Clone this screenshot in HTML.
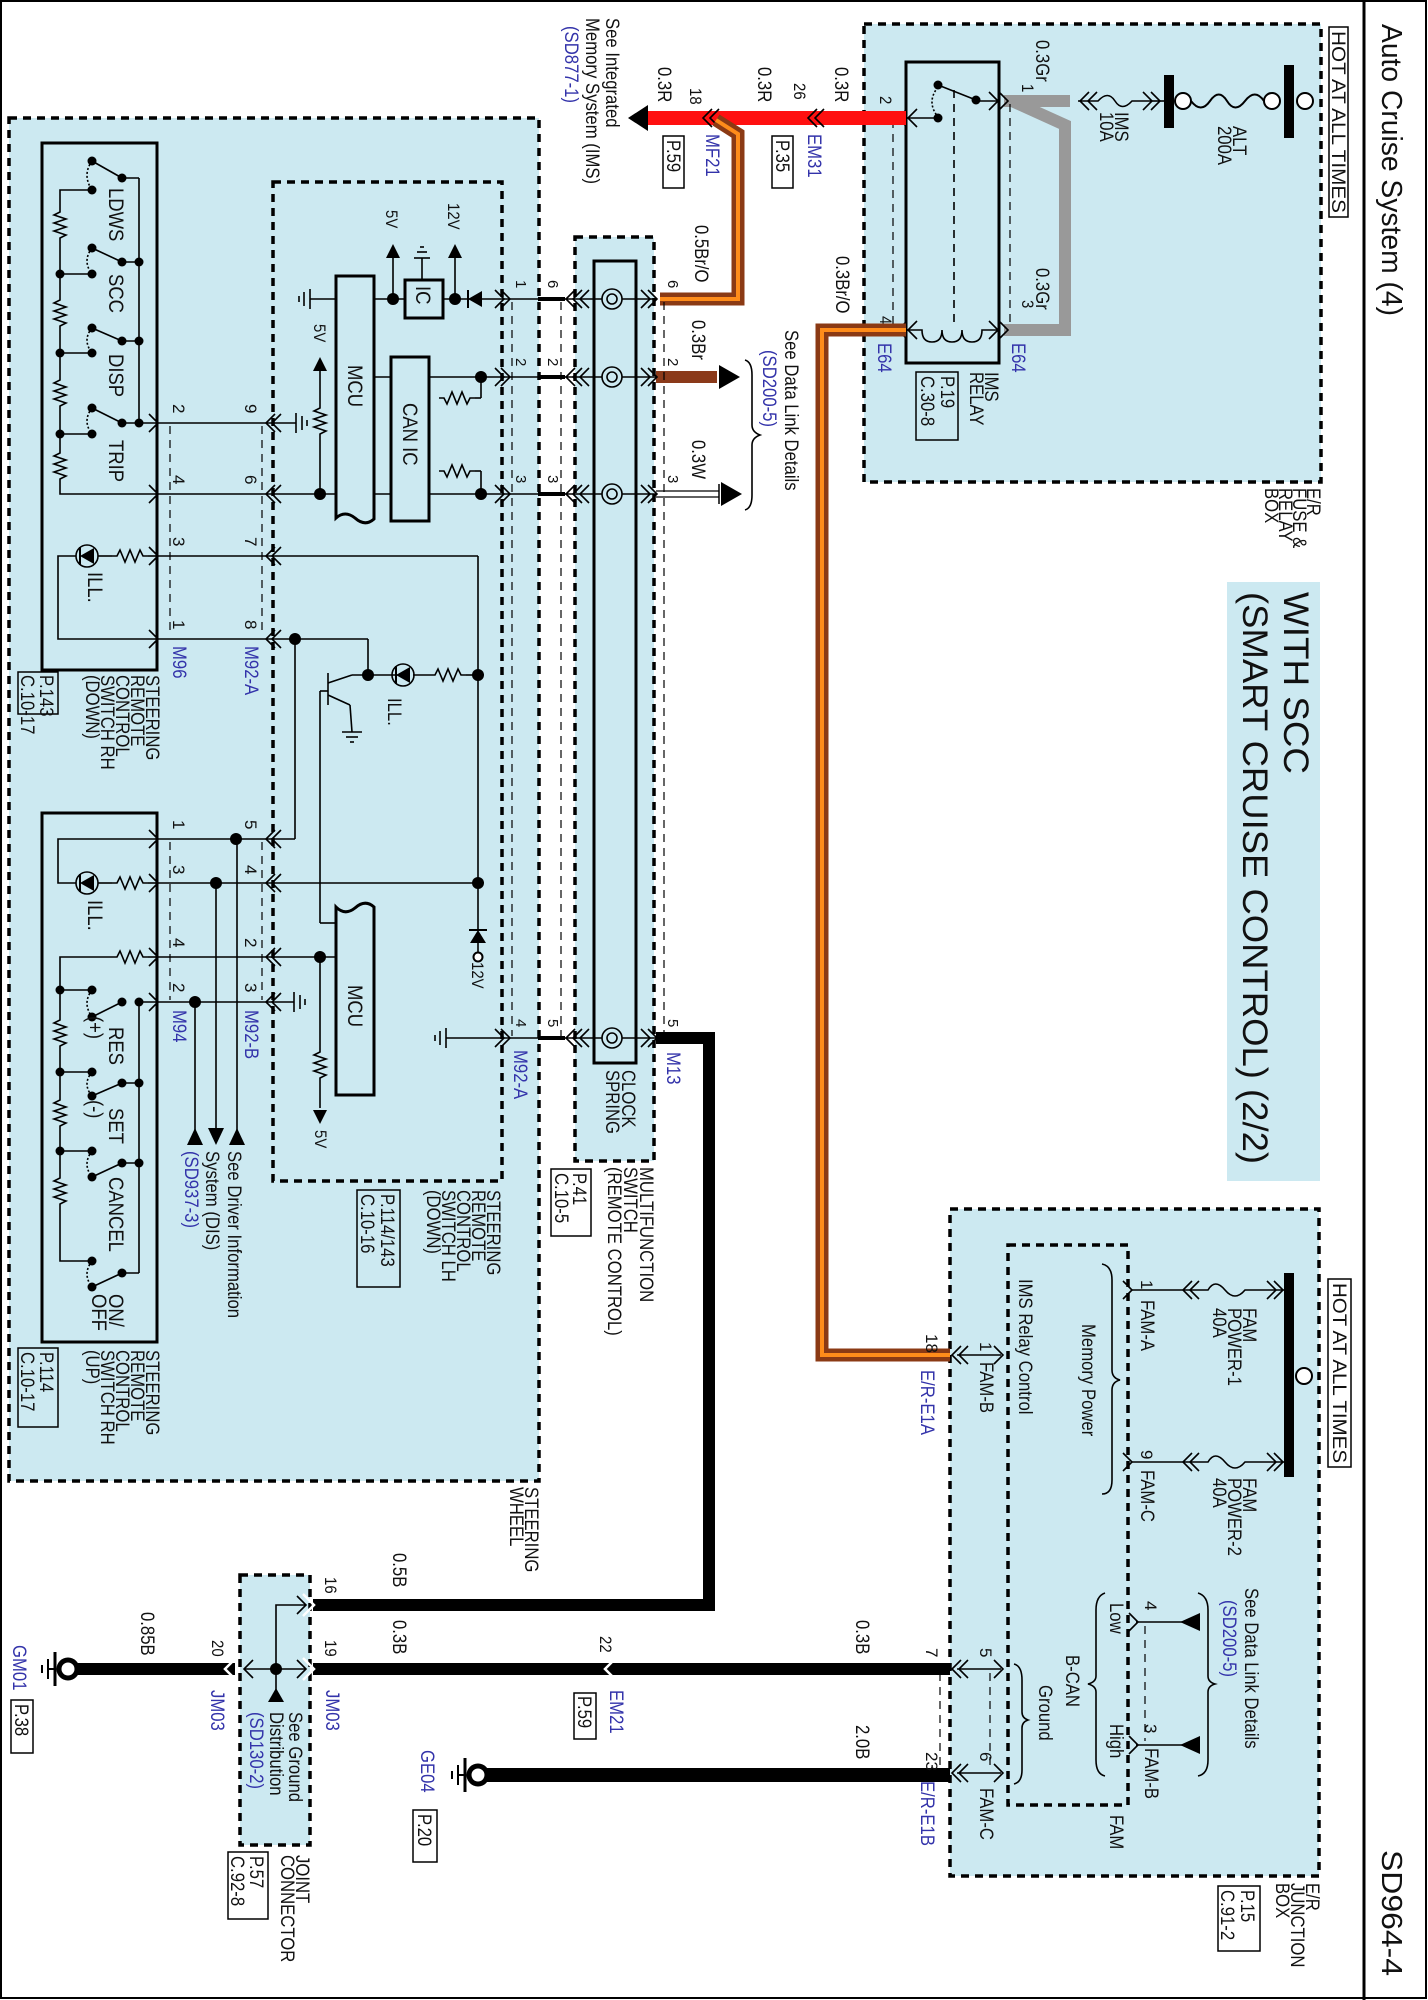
<!DOCTYPE html>
<html><head><meta charset="utf-8">
<style>
html,body{margin:0;padding:0;background:#fff;}
svg{display:block;}
text{font-family:"Liberation Sans",sans-serif;font-size:21px;fill:#111;}
.s{font-size:19px;}
.b{fill:#3333aa;}
.n{font-size:17px;}
.q{font-size:15px;}
</style></head><body>
<svg width="1428" height="2000" viewBox="0 0 1428 2000" xmlns="http://www.w3.org/2000/svg">
<defs>
<g id="cl"><polyline points="9,-9 0,0 9,9" fill="none" stroke="#000" stroke-width="1.6"/></g>
<g id="cr"><polyline points="-9,-9 0,0 -9,9" fill="none" stroke="#000" stroke-width="1.6"/></g>
<g id="dd"><circle r="6" fill="#000"/></g>
<g id="ds"><circle r="4.5" fill="#000"/></g>
<g id="resH"><polyline points="0,0 5,0 8,-6 13,6 18,-6 23,6 28,-6 31,0 36,0" fill="none" stroke="#000" stroke-width="1.6"/></g>
<g id="resV"><polyline points="0,0 0,4 -6,7 6,11 -6,15 6,19 -6,23 6,27 0,30 0,34" fill="none" stroke="#000" stroke-width="1.6"/></g>
</defs>
<rect x="1" y="1" width="1425" height="1997" fill="none" stroke="#000" stroke-width="2"/>
<line x1="1364" y1="0" x2="1364" y2="2000" stroke="#000" stroke-width="3"/>
<text transform="translate(1382,24) rotate(90)" style="font-size:29px" textLength="292" lengthAdjust="spacingAndGlyphs">Auto Cruise System (4)</text>
<text transform="translate(1382,1850) rotate(90)" style="font-size:29px" textLength="126" lengthAdjust="spacingAndGlyphs">SD964-4</text>

<g fill="#cce9f1" stroke="#000" stroke-width="3.5" stroke-dasharray="8,6">
<rect x="9" y="118" width="530" height="1363"/>
<rect x="273" y="182" width="229" height="999"/>
<rect x="575" y="237" width="79" height="924"/>
<rect x="864" y="24" width="457" height="458"/>
<rect x="950" y="1209" width="369" height="667"/>
<rect x="1008" y="1245" width="120" height="560"/>
<rect x="240" y="1575" width="70" height="270"/>
</g>
<rect x="1227" y="582" width="93" height="599" fill="#cce9f1"/>
<text transform="translate(1284,592) rotate(90)" style="font-size:35px" textLength="182" lengthAdjust="spacingAndGlyphs">WITH SCC</text>
<text transform="translate(1243,592) rotate(90)" style="font-size:35px" textLength="572" lengthAdjust="spacingAndGlyphs">(SMART CRUISE CONTROL) (2/2)</text>

<g fill="none" stroke="#000" stroke-width="3">
<rect x="42" y="143" width="115" height="527"/>
<rect x="42" y="813" width="115" height="529"/>
<rect x="594" y="261" width="42" height="802"/>
<rect x="906" y="62" width="93" height="301"/>
<rect x="391" y="357" width="38" height="164"/>
<rect x="405" y="280" width="38" height="38"/>
</g>
<path d="M336,276 L374,276 L374,519 Q365,527 355,518 Q345,510 336,518 Z" fill="none" stroke="#000" stroke-width="3"/>
<path d="M336,1095 L374,1095 L374,907 Q365,899 355,908 Q345,916 336,907 Z" fill="none" stroke="#000" stroke-width="3"/>
<text transform="translate(348,365) rotate(90) scale(0.88,1)">MCU</text>
<text transform="translate(348,985) rotate(90) scale(0.88,1)">MCU</text>
<text transform="translate(403,403) rotate(90) scale(0.88,1)">CAN IC</text>
<text transform="translate(416,286) rotate(90) scale(0.88,1)">IC</text>

<!-- Fuse & relay box -->
<rect x="1329" y="27" width="19" height="190" fill="#fff" stroke="#000" stroke-width="1.5"/>
<text transform="translate(1332,31) rotate(90)" class="s" textLength="182" lengthAdjust="spacingAndGlyphs">HOT AT ALL TIMES</text>
<rect x="1284" y="65" width="10" height="73" fill="#000"/>
<rect x="1164" y="75" width="10" height="53" fill="#000"/>
<g fill="#fff" stroke="#000" stroke-width="2">
<circle cx="1305" cy="101" r="8"/><circle cx="1272" cy="101" r="8"/><circle cx="1183" cy="101" r="8"/>
</g>
<path d="M1264,101 Q1255,88 1245,101 T1227,101 T1210,101 T1191,101" fill="none" stroke="#000" stroke-width="2"/>
<path d="M1078,101 L1098,101 Q1108,90 1115,101 T1132,101 L1152,101" fill="none" stroke="#000" stroke-width="1.6"/>
<line x1="1152" y1="101" x2="1164" y2="101" stroke="#000" stroke-width="1.6"/>
<use href="#cl" x="1080" y="101"/><use href="#cl" x="1088" y="101"/><use href="#cr" x="1152" y="101"/><use href="#cr" x="1160" y="101"/>
<text transform="translate(1115,112) rotate(90) scale(0.88,1)" class="s">IMS</text>
<text transform="translate(1100,112) rotate(90) scale(0.88,1)" class="s">10A</text>
<text transform="translate(1233,126) rotate(90) scale(0.88,1)" class="s">ALT</text>
<text transform="translate(1218,126) rotate(90) scale(0.88,1)" class="s">200A</text>
<path d="M1012,101 L1065,125 L1065,330 L1004,330" fill="none" stroke="#999" stroke-width="12"/>
<line x1="1004" y1="101" x2="1070" y2="101" stroke="#999" stroke-width="12"/>
<text transform="translate(1036,40) rotate(90) scale(0.88,1)" class="s">0.3Gr</text>
<text transform="translate(1022,84) rotate(90) scale(0.88,1)" class="n">1</text>
<text transform="translate(1036,268) rotate(90) scale(0.88,1)" class="s">0.3Gr</text>
<text transform="translate(1022,300) rotate(90) scale(0.88,1)" class="n">3</text>
<g stroke="#000" stroke-width="1.6" fill="none">
<line x1="906" y1="118" x2="938" y2="118"/>
<line x1="938" y1="85" x2="976" y2="100"/>
<line x1="976" y1="101" x2="999" y2="101"/>
<path d="M938,87 Q926,102 938,117" stroke-dasharray="2,2"/>
<line x1="954" y1="90" x2="954" y2="322" stroke-dasharray="8,6"/>
<line x1="893" y1="120" x2="893" y2="328" stroke-dasharray="8,6" stroke-width="1.2"/>
<line x1="1010" y1="104" x2="1010" y2="328" stroke-dasharray="8,6" stroke-width="1.2"/>
<path d="M906,330 L922,330 Q922,342 932,342 Q942,342 942,330 Q942,342 952,342 Q962,342 962,330 Q962,342 972,342 Q982,342 982,330 L999,330"/>
</g>
<use href="#ds" x="938" y="85"/><use href="#ds" x="976" y="100"/><use href="#ds" x="938" y="118"/>
<use href="#cl" x="908" y="118"/><use href="#cr" x="998" y="101"/><use href="#cl" x="908" y="330"/><use href="#cr" x="998" y="330"/>
<use href="#cl" x="898" y="118"/><use href="#cr" x="1008" y="101"/><use href="#cl" x="898" y="330"/><use href="#cr" x="1008" y="330"/>
<text transform="translate(985,372) rotate(90) scale(0.88,1)" class="s">IMS</text>
<text transform="translate(970,372) rotate(90) scale(0.88,1)" class="s">RELAY</text>
<rect x="916" y="372" width="42" height="68" fill="none" stroke="#000" stroke-width="1.5"/>
<text transform="translate(941,376) rotate(90) scale(0.88,1)" class="s">P.19</text>
<text transform="translate(921,376) rotate(90) scale(0.88,1)" class="s">C.30-8</text>
<text transform="translate(878,343) rotate(90) scale(0.88,1)" class="s b">E64</text>
<text transform="translate(1012,343) rotate(90) scale(0.88,1)" class="s b">E64</text>
<text transform="translate(880,96) rotate(90) scale(0.88,1)" class="n">2</text>
<text transform="translate(880,316) rotate(90) scale(0.88,1)" class="n">4</text>
<text transform="translate(1307,488) rotate(90) scale(0.88,1)" class="s">E/R</text>
<text transform="translate(1293,488) rotate(90) scale(0.88,1)" class="s">FUSE &amp;</text>
<text transform="translate(1279,488) rotate(90) scale(0.88,1)" class="s">RELAY</text>
<text transform="translate(1265,488) rotate(90) scale(0.88,1)" class="s">BOX</text>

<line x1="646" y1="118" x2="906" y2="118" stroke="#ff1010" stroke-width="14"/>
<polygon points="628,118 648,105 648,131" fill="#000"/>
<use href="#cl" x="703" y="118"/><use href="#cl" x="710" y="118"/>
<use href="#cl" x="808" y="118"/><use href="#cl" x="815" y="118"/>
<path d="M716,120 L738,134 L738,299 L660,299" fill="none" stroke="#8b3a14" stroke-width="13"/>
<path d="M716,120 L738,134 L738,299 L660,299" fill="none" stroke="#ff8c1a" stroke-width="4"/>
<path d="M906,330 L822,330 L822,1355 L950,1355" fill="none" stroke="#8b3a14" stroke-width="13"/>
<path d="M906,330 L822,330 L822,1355 L950,1355" fill="none" stroke="#ff8c1a" stroke-width="4"/>
<text transform="translate(836,256) rotate(90) scale(0.88,1)" class="s">0.3Br/O</text>
<text transform="translate(658,67) rotate(90) scale(0.88,1)" class="s">0.3R</text>
<text transform="translate(690,88) rotate(90) scale(0.88,1)" class="n">18</text>
<text transform="translate(706,134) rotate(90) scale(0.88,1)" class="s b">MF21</text>
<rect x="663" y="136" width="21" height="52" fill="none" stroke="#000" stroke-width="1.5"/>
<text transform="translate(667,140) rotate(90) scale(0.88,1)" class="s">P.59</text>
<text transform="translate(758,67) rotate(90) scale(0.88,1)" class="s">0.3R</text>
<text transform="translate(794,83) rotate(90) scale(0.88,1)" class="n">26</text>
<text transform="translate(808,134) rotate(90) scale(0.88,1)" class="s b">EM31</text>
<rect x="772" y="136" width="21" height="52" fill="none" stroke="#000" stroke-width="1.5"/>
<text transform="translate(776,140) rotate(90) scale(0.88,1)" class="s">P.35</text>
<text transform="translate(835,67) rotate(90) scale(0.88,1)" class="s">0.3R</text>
<text transform="translate(606,18) rotate(90) scale(0.88,1)" class="s">See Integrated</text>
<text transform="translate(586,18) rotate(90) scale(0.88,1)" class="s">Memory System (IMS)</text>
<text transform="translate(565,26) rotate(90) scale(0.88,1)" class="s b">(SD877-1)</text>
<text transform="translate(695,225) rotate(90) scale(0.88,1)" class="s">0.5Br/O</text>
<text transform="translate(692,320) rotate(90) scale(0.88,1)" class="s">0.3Br</text>
<text transform="translate(692,440) rotate(90) scale(0.88,1)" class="s">0.3W</text>
<line x1="656" y1="377" x2="717" y2="377" stroke="#8b3a1a" stroke-width="12"/>
<polygon points="740,377 719,365 719,389" fill="#000"/>
<line x1="656" y1="491" x2="719" y2="491" stroke="#000" stroke-width="1.2"/>
<line x1="656" y1="497" x2="719" y2="497" stroke="#000" stroke-width="1.2"/>
<line x1="719" y1="484" x2="719" y2="504" stroke="#000" stroke-width="1.5"/>
<polygon points="742,494 721,482 721,506" fill="#000"/>
<path d="M745,360 Q752,362 752,375 L752,425 Q752,432 760,435 Q752,438 752,445 L752,495 Q752,508 745,510" fill="none" stroke="#000" stroke-width="1.6"/>
<text transform="translate(785,330) rotate(90) scale(0.88,1)" class="s">See Data Link Details</text>
<text transform="translate(763,350) rotate(90) scale(0.88,1)" class="s b">(SD200-5)</text>

<g stroke="#000" stroke-width="1.6" fill="none">
<line x1="504" y1="299" x2="656" y2="299"/>
<line x1="504" y1="377" x2="656" y2="377"/>
<line x1="504" y1="494" x2="656" y2="494"/>
<line x1="504" y1="1038" x2="709" y2="1038"/>
<line x1="512" y1="302" x2="512" y2="1036" stroke-dasharray="8,6" stroke-width="1.2"/>
<line x1="561" y1="302" x2="561" y2="1036" stroke-dasharray="8,6" stroke-width="1.2"/>
<line x1="664" y1="302" x2="664" y2="1036" stroke-dasharray="8,6" stroke-width="1.2"/>
</g>
<g stroke="#000" stroke-width="4"><line x1="538" y1="299" x2="565" y2="299"/><line x1="538" y1="377" x2="565" y2="377"/><line x1="538" y1="494" x2="565" y2="494"/><line x1="538" y1="1038" x2="565" y2="1038"/></g>
<g>
<use href="#cr" x="504" y="299"/><use href="#cr" x="510" y="299"/><use href="#cl" x="566" y="299"/><use href="#cl" x="573" y="299"/><use href="#cl" x="580" y="299"/><use href="#cr" x="650" y="299"/><use href="#cr" x="657" y="299"/>
<use href="#cr" x="504" y="377"/><use href="#cr" x="510" y="377"/><use href="#cl" x="566" y="377"/><use href="#cl" x="573" y="377"/><use href="#cl" x="580" y="377"/><use href="#cr" x="650" y="377"/><use href="#cr" x="657" y="377"/>
<use href="#cr" x="504" y="494"/><use href="#cr" x="510" y="494"/><use href="#cl" x="566" y="494"/><use href="#cl" x="573" y="494"/><use href="#cl" x="580" y="494"/><use href="#cr" x="650" y="494"/><use href="#cr" x="657" y="494"/>
<use href="#cr" x="504" y="1038"/><use href="#cr" x="510" y="1038"/><use href="#cl" x="566" y="1038"/><use href="#cl" x="573" y="1038"/><use href="#cl" x="580" y="1038"/><use href="#cr" x="650" y="1038"/><use href="#cr" x="657" y="1038"/>
</g>
<g fill="#cce9f1" stroke="#000" stroke-width="1.6">
<circle cx="612" cy="299" r="10"/><circle cx="612" cy="377" r="10"/><circle cx="612" cy="494" r="10"/><circle cx="612" cy="1038" r="10"/>
<circle cx="612" cy="299" r="5"/><circle cx="612" cy="377" r="5"/><circle cx="612" cy="494" r="5"/><circle cx="612" cy="1038" r="5"/>
</g>
<text transform="translate(516,280) rotate(90)" class="q">1</text><text transform="translate(548,280) rotate(90)" class="q">6</text><text transform="translate(668,280) rotate(90)" class="q">6</text>
<text transform="translate(516,358) rotate(90)" class="q">2</text><text transform="translate(548,358) rotate(90)" class="q">2</text><text transform="translate(668,358) rotate(90)" class="q">2</text>
<text transform="translate(516,475) rotate(90)" class="q">3</text><text transform="translate(548,475) rotate(90)" class="q">3</text><text transform="translate(668,475) rotate(90)" class="q">3</text>
<text transform="translate(516,1019) rotate(90)" class="q">4</text><text transform="translate(548,1019) rotate(90)" class="q">5</text><text transform="translate(668,1019) rotate(90)" class="q">5</text>
<text transform="translate(667,1052) rotate(90) scale(0.88,1)" class="s b">M13</text>
<text transform="translate(514,1050) rotate(90) scale(0.88,1)" class="s b">M92-A</text>
<text transform="translate(622,1070) rotate(90) scale(0.88,1)" class="s">CLOCK</text>
<text transform="translate(606,1070) rotate(90) scale(0.88,1)" class="s">SPRING</text>
<text transform="translate(640,1167) rotate(90) scale(0.88,1)" class="s">MULTIFUNCTION</text>
<text transform="translate(624,1167) rotate(90) scale(0.88,1)" class="s">SWITCH</text>
<text transform="translate(608,1167) rotate(90) scale(0.88,1)" class="s">(REMOTE CONTROL)</text>
<rect x="551" y="1169" width="40" height="67" fill="none" stroke="#000" stroke-width="1.5"/>
<text transform="translate(573,1173) rotate(90) scale(0.88,1)" class="s">P.41</text>
<text transform="translate(555,1173) rotate(90) scale(0.88,1)" class="s">C.10-5</text>

<g stroke="#000" stroke-width="1.6" fill="none">
<line x1="310" y1="299" x2="336" y2="299"/>
<line x1="374" y1="299" x2="405" y2="299"/>
<line x1="443" y1="299" x2="504" y2="299"/>
<line x1="393" y1="299" x2="393" y2="250"/>
<line x1="455" y1="299" x2="455" y2="250"/>
<line x1="422" y1="280" x2="422" y2="258"/>
<line x1="414" y1="258" x2="430" y2="258"/><line x1="417" y1="252" x2="427" y2="252"/><line x1="420" y1="247" x2="424" y2="247"/>
<line x1="310" y1="289" x2="310" y2="309"/><line x1="304" y1="292" x2="304" y2="306"/><line x1="299" y1="296" x2="299" y2="302"/>
<line x1="374" y1="377" x2="391" y2="377"/>
<line x1="429" y1="377" x2="504" y2="377"/>
<line x1="481" y1="377" x2="481" y2="398"/>
<line x1="475" y1="398" x2="481" y2="398"/>
<line x1="374" y1="494" x2="391" y2="494"/>
<line x1="429" y1="494" x2="504" y2="494"/>
<line x1="481" y1="494" x2="481" y2="471"/>
<line x1="475" y1="471" x2="481" y2="471"/>
<line x1="157" y1="423" x2="275" y2="423"/>
<line x1="275" y1="423" x2="296" y2="423"/>
<line x1="296" y1="413" x2="296" y2="433"/><line x1="302" y1="416" x2="302" y2="430"/><line x1="307" y1="420" x2="307" y2="426"/>
<line x1="157" y1="494" x2="336" y2="494"/>
<line x1="320" y1="494" x2="320" y2="438"/>
<line x1="320" y1="404" x2="320" y2="365"/>
<line x1="157" y1="556" x2="478" y2="556"/>
<line x1="478" y1="556" x2="478" y2="930"/>
<line x1="157" y1="639" x2="368" y2="639"/>
<line x1="368" y1="639" x2="368" y2="675"/>
<line x1="295" y1="639" x2="295" y2="839"/>
<line x1="295" y1="839" x2="268" y2="839"/>
<line x1="352" y1="675" x2="403" y2="675"/>
<line x1="328" y1="673" x2="328" y2="705"/>
<line x1="328" y1="683" x2="352" y2="675"/>
<line x1="328" y1="695" x2="350" y2="705"/>
<line x1="350" y1="705" x2="352" y2="732"/>
<line x1="342" y1="732" x2="362" y2="732"/><line x1="346" y1="737" x2="358" y2="737"/><line x1="350" y1="742" x2="354" y2="742"/>
<line x1="320" y1="691" x2="328" y2="691"/>
<line x1="320" y1="691" x2="320" y2="923"/>
<line x1="320" y1="923" x2="336" y2="923"/>
<line x1="413" y1="675" x2="430" y2="675"/>
<line x1="466" y1="675" x2="478" y2="675"/>
<line x1="157" y1="839" x2="268" y2="839"/>
<line x1="157" y1="883" x2="478" y2="883"/>
<line x1="157" y1="957" x2="336" y2="957"/>
<line x1="157" y1="1002" x2="275" y2="1002"/>
<line x1="275" y1="1002" x2="294" y2="1002"/>
<line x1="294" y1="992" x2="294" y2="1012"/><line x1="300" y1="995" x2="300" y2="1009"/><line x1="305" y1="999" x2="305" y2="1005"/>
<line x1="320" y1="957" x2="320" y2="1048"/>
<line x1="320" y1="1082" x2="320" y2="1108"/>
<line x1="478" y1="943" x2="478" y2="952"/>
<line x1="446" y1="1038" x2="504" y2="1038"/>
<line x1="446" y1="1028" x2="446" y2="1048"/><line x1="440" y1="1031" x2="440" y2="1045"/><line x1="435" y1="1035" x2="435" y2="1041"/>
<line x1="195" y1="1002" x2="195" y2="1130"/>
<line x1="216" y1="883" x2="216" y2="1130"/>
<line x1="237" y1="839" x2="237" y2="1130"/>
<line x1="170" y1="426" x2="170" y2="636" stroke-dasharray="8,6" stroke-width="1.2"/>
<line x1="262" y1="426" x2="262" y2="636" stroke-dasharray="8,6" stroke-width="1.2"/>
<line x1="170" y1="842" x2="170" y2="1000" stroke-dasharray="8,6" stroke-width="1.2"/>
<line x1="262" y1="842" x2="262" y2="1000" stroke-dasharray="8,6" stroke-width="1.2"/>
</g>
<use href="#resH" transform="translate(917,796) rotate(180)" x="442" y="398"/>
<use href="#resH" transform="translate(917,942) rotate(180)" x="442" y="471"/>
<use href="#resV" x="320" y="404"/>
<use href="#resV" x="320" y="1048"/>
<use href="#resH" x="430" y="675"/>
<polygon points="393,244 386,258 400,258" fill="#000"/>
<polygon points="455,244 448,258 462,258" fill="#000"/>
<polygon points="320,357 313,371 327,371" fill="#000"/>
<polygon points="320,1124 313,1110 327,1110" fill="#000"/>
<polygon points="468,299 482,291 482,307" fill="#000"/><line x1="468" y1="290" x2="468" y2="308" stroke="#000" stroke-width="2"/>
<polygon points="478,930 470,943 486,943" fill="#000"/><line x1="469" y1="930" x2="487" y2="930" stroke="#000" stroke-width="2"/>
<circle cx="478" cy="957" r="4.5" fill="#fff" stroke="#000" stroke-width="2"/>
<polygon points="195,1128 187,1145 203,1145" fill="#000"/>
<polygon points="216,1145 208,1128 224,1128" fill="#000"/>
<polygon points="237,1128 229,1145 245,1145" fill="#000"/>
<g>
<use href="#dd" x="393" y="299"/><use href="#dd" x="455" y="299"/><use href="#dd" x="481" y="377"/><use href="#dd" x="481" y="494"/><use href="#dd" x="320" y="494"/>
<use href="#dd" x="295" y="639"/><use href="#dd" x="368" y="675"/><use href="#dd" x="478" y="675"/><use href="#dd" x="236" y="839"/><use href="#dd" x="216" y="883"/><use href="#dd" x="478" y="883"/><use href="#dd" x="320" y="957"/><use href="#dd" x="195" y="1002"/>
</g>
<circle cx="403" cy="675" r="11" fill="none" stroke="#000" stroke-width="1.6"/>
<polygon points="396,675 410,667 410,683" fill="#000"/><line x1="396" y1="666" x2="396" y2="684" stroke="#000" stroke-width="2"/>
<text transform="translate(388,698) rotate(90) scale(0.88,1)" class="s">ILL.</text>
<text transform="translate(386,210) rotate(90) scale(0.88,1)" class="n">5V</text>
<text transform="translate(448,203) rotate(90) scale(0.88,1)" class="n">12V</text>
<text transform="translate(314,324) rotate(90) scale(0.88,1)" class="n">5V</text>
<text transform="translate(315,1130) rotate(90) scale(0.88,1)" class="n">5V</text>
<text transform="translate(472,962) rotate(90) scale(0.88,1)" class="n">12V</text>
<g>
<use href="#cr" x="158" y="423"/><use href="#cr" x="158" y="494"/><use href="#cr" x="158" y="556"/><use href="#cr" x="158" y="639"/>
<use href="#cl" x="266" y="423"/><use href="#cl" x="272" y="423"/><use href="#cl" x="266" y="494"/><use href="#cl" x="272" y="494"/><use href="#cl" x="266" y="556"/><use href="#cl" x="272" y="556"/><use href="#cl" x="266" y="639"/><use href="#cl" x="272" y="639"/>
<use href="#cr" x="158" y="839"/><use href="#cr" x="158" y="883"/><use href="#cr" x="158" y="957"/><use href="#cr" x="158" y="1002"/>
<use href="#cl" x="266" y="839"/><use href="#cl" x="272" y="839"/><use href="#cl" x="266" y="883"/><use href="#cl" x="272" y="883"/><use href="#cl" x="266" y="957"/><use href="#cl" x="272" y="957"/><use href="#cl" x="266" y="1002"/><use href="#cl" x="272" y="1002"/>
</g>
<text transform="translate(173,404) rotate(90)" class="n">2</text><text transform="translate(245,404) rotate(90)" class="n">9</text>
<text transform="translate(173,475) rotate(90)" class="n">4</text><text transform="translate(245,475) rotate(90)" class="n">6</text>
<text transform="translate(173,537) rotate(90)" class="n">3</text><text transform="translate(245,537) rotate(90)" class="n">7</text>
<text transform="translate(173,620) rotate(90)" class="n">1</text><text transform="translate(245,620) rotate(90)" class="n">8</text>
<text transform="translate(173,646) rotate(90) scale(0.88,1)" class="s b">M96</text>
<text transform="translate(245,646) rotate(90) scale(0.88,1)" class="s b">M92-A</text>
<text transform="translate(173,820) rotate(90)" class="n">1</text><text transform="translate(245,820) rotate(90)" class="n">5</text>
<text transform="translate(173,865) rotate(90)" class="n">3</text><text transform="translate(245,865) rotate(90)" class="n">4</text>
<text transform="translate(173,938) rotate(90)" class="n">4</text><text transform="translate(245,938) rotate(90)" class="n">2</text>
<text transform="translate(173,983) rotate(90)" class="n">2</text><text transform="translate(245,983) rotate(90)" class="n">3</text>
<text transform="translate(173,1010) rotate(90) scale(0.88,1)" class="s b">M94</text>
<text transform="translate(245,1010) rotate(90) scale(0.88,1)" class="s b">M92-B</text>
<text transform="translate(228,1151) rotate(90) scale(0.88,1)" class="s">See Driver Information</text>
<text transform="translate(206,1151) rotate(90) scale(0.88,1)" class="s">System (DIS)</text>
<text transform="translate(185,1151) rotate(90) scale(0.88,1)" class="s b">(SD937-3)</text>

<g stroke="#000" stroke-width="1.6" fill="none">
<line x1="139" y1="178" x2="139" y2="423"/><line x1="122" y1="178" x2="139" y2="178"/>
<line x1="139" y1="423" x2="157" y2="423"/>
<line x1="92" y1="161" x2="122" y2="178"/><line x1="92" y1="248" x2="122" y2="262"/><line x1="92" y1="328" x2="122" y2="341"/><line x1="92" y1="408" x2="122" y2="423"/>
<line x1="122" y1="262" x2="139" y2="262"/><line x1="122" y1="341" x2="139" y2="341"/><line x1="122" y1="423" x2="139" y2="423"/>
<path d="M92,161 Q82,175 92,190 M92,248 Q82,261 92,274 M92,328 Q82,340 92,353 M92,408 Q82,421 92,434" stroke-dasharray="2,2"/>
<polyline points="92,190 60,190 60,208"/>
<line x1="60" y1="242" x2="60" y2="296"/><line x1="60" y1="274" x2="92" y2="274"/>
<line x1="60" y1="330" x2="60" y2="376"/><line x1="60" y1="353" x2="92" y2="353"/>
<line x1="60" y1="410" x2="60" y2="449"/><line x1="60" y1="434" x2="92" y2="434"/>
<polyline points="60,483 60,494 157,494"/>
<polyline points="157,639 58,639 58,556 76,556"/>
<line x1="98" y1="556" x2="112" y2="556"/><line x1="148" y1="556" x2="157" y2="556"/>
<polyline points="157,839 58,839 58,883 76,883"/>
<line x1="98" y1="883" x2="112" y2="883"/><line x1="148" y1="883" x2="157" y2="883"/>
<polyline points="112,957 60,957 60,1016"/><line x1="148" y1="957" x2="157" y2="957"/>
<line x1="60" y1="990" x2="92" y2="990"/>
<line x1="60" y1="1050" x2="60" y2="1096"/><line x1="60" y1="1072" x2="92" y2="1072"/>
<line x1="60" y1="1130" x2="60" y2="1174"/><line x1="60" y1="1151" x2="92" y2="1151"/>
<polyline points="60,1208 60,1261 92,1261"/>
<line x1="139" y1="1002" x2="139" y2="1273"/><line x1="139" y1="1002" x2="157" y2="1002"/>
<line x1="92" y1="1017" x2="122" y2="1002"/><line x1="92" y1="1096" x2="122" y2="1083"/><line x1="92" y1="1177" x2="122" y2="1163"/><line x1="92" y1="1287" x2="122" y2="1273"/>
<line x1="122" y1="1083" x2="139" y2="1083"/><line x1="122" y1="1163" x2="139" y2="1163"/><line x1="122" y1="1273" x2="139" y2="1273"/>
<path d="M92,990 Q82,1003 92,1017 M92,1072 Q82,1084 92,1096 M92,1151 Q82,1164 92,1177 M92,1261 Q82,1274 92,1287" stroke-dasharray="2,2"/>
</g>
<use href="#resV" x="60" y="208"/><use href="#resV" x="60" y="296"/><use href="#resV" x="60" y="376"/><use href="#resV" x="60" y="449"/>
<use href="#resV" x="60" y="1016"/><use href="#resV" x="60" y="1096"/><use href="#resV" x="60" y="1174"/>
<use href="#resH" x="112" y="556"/><use href="#resH" x="112" y="883"/><use href="#resH" x="112" y="957"/>
<g>
<use href="#ds" x="92" y="161"/><use href="#ds" x="92" y="190"/><use href="#ds" x="122" y="178"/>
<use href="#ds" x="92" y="248"/><use href="#ds" x="92" y="274"/><use href="#ds" x="122" y="262"/><use href="#ds" x="139" y="262"/><use href="#ds" x="60" y="274"/>
<use href="#ds" x="92" y="328"/><use href="#ds" x="92" y="353"/><use href="#ds" x="122" y="341"/><use href="#ds" x="139" y="341"/><use href="#ds" x="60" y="353"/>
<use href="#ds" x="92" y="408"/><use href="#ds" x="92" y="434"/><use href="#ds" x="122" y="423"/><use href="#ds" x="139" y="423"/><use href="#ds" x="60" y="434"/>
<use href="#ds" x="92" y="990"/><use href="#ds" x="92" y="1017"/><use href="#ds" x="122" y="1002"/><use href="#ds" x="139" y="1002"/><use href="#ds" x="60" y="990"/>
<use href="#ds" x="92" y="1072"/><use href="#ds" x="92" y="1096"/><use href="#ds" x="122" y="1083"/><use href="#ds" x="139" y="1083"/><use href="#ds" x="60" y="1072"/>
<use href="#ds" x="92" y="1151"/><use href="#ds" x="92" y="1177"/><use href="#ds" x="122" y="1163"/><use href="#ds" x="139" y="1163"/><use href="#ds" x="60" y="1151"/>
<use href="#ds" x="92" y="1261"/><use href="#ds" x="92" y="1287"/><use href="#ds" x="122" y="1273"/>
</g>
<circle cx="87" cy="556" r="11" fill="none" stroke="#000" stroke-width="1.6"/>
<polygon points="80,556 94,548 94,564" fill="#000"/><line x1="80" y1="547" x2="80" y2="565" stroke="#000" stroke-width="2"/>
<circle cx="87" cy="883" r="11" fill="none" stroke="#000" stroke-width="1.6"/>
<polygon points="80,883 94,875 94,891" fill="#000"/><line x1="80" y1="874" x2="80" y2="892" stroke="#000" stroke-width="2"/>
<text transform="translate(109,188) rotate(90) scale(0.88,1)">LDWS</text>
<text transform="translate(109,274) rotate(90) scale(0.88,1)">SCC</text>
<text transform="translate(109,354) rotate(90) scale(0.88,1)">DISP</text>
<text transform="translate(109,440) rotate(90) scale(0.88,1)">TRIP</text>
<text transform="translate(88,572) rotate(90) scale(0.88,1)">ILL.</text>
<text transform="translate(88,900) rotate(90) scale(0.88,1)">ILL.</text>
<text transform="translate(109,1027) rotate(90) scale(0.88,1)">RES</text>
<text transform="translate(88,1016) rotate(90) scale(0.88,1)">(+)</text>
<text transform="translate(109,1108) rotate(90) scale(0.88,1)">SET</text>
<text transform="translate(88,1100) rotate(90) scale(0.88,1)">(-)</text>
<text transform="translate(109,1177) rotate(90) scale(0.88,1)">CANCEL</text>
<text transform="translate(109,1294) rotate(90) scale(0.88,1)">ON/</text>
<text transform="translate(92,1294) rotate(90) scale(0.88,1)">OFF</text>
<text transform="translate(146,675) rotate(90) scale(0.88,1)" class="s">STEERING</text>
<text transform="translate(131,675) rotate(90) scale(0.88,1)" class="s">REMOTE</text>
<text transform="translate(116,675) rotate(90) scale(0.88,1)" class="s">CONTROL</text>
<text transform="translate(101,675) rotate(90) scale(0.88,1)" class="s">SWITCH RH</text>
<text transform="translate(86,675) rotate(90) scale(0.88,1)" class="s">(DOWN)</text>
<rect x="18" y="672" width="40" height="42" fill="none" stroke="#000" stroke-width="1.5"/>
<text transform="translate(40,675) rotate(90) scale(0.88,1)" class="s">P.143</text>
<text transform="translate(21,675) rotate(90) scale(0.88,1)" class="s">C.10-17</text>
<text transform="translate(146,1350) rotate(90) scale(0.88,1)" class="s">STEERING</text>
<text transform="translate(131,1350) rotate(90) scale(0.88,1)" class="s">REMOTE</text>
<text transform="translate(116,1350) rotate(90) scale(0.88,1)" class="s">CONTROL</text>
<text transform="translate(101,1350) rotate(90) scale(0.88,1)" class="s">SWITCH RH</text>
<text transform="translate(86,1350) rotate(90) scale(0.88,1)" class="s">(UP)</text>
<rect x="18" y="1348" width="40" height="79" fill="none" stroke="#000" stroke-width="1.5"/>
<text transform="translate(40,1352) rotate(90) scale(0.88,1)" class="s">P.114</text>
<text transform="translate(21,1352) rotate(90) scale(0.88,1)" class="s">C.10-17</text>
<text transform="translate(487,1190) rotate(90) scale(0.88,1)" class="s">STEERING</text>
<text transform="translate(472,1190) rotate(90) scale(0.88,1)" class="s">REMOTE</text>
<text transform="translate(457,1190) rotate(90) scale(0.88,1)" class="s">CONTROL</text>
<text transform="translate(442,1190) rotate(90) scale(0.88,1)" class="s">SWITCH LH</text>
<text transform="translate(427,1190) rotate(90) scale(0.88,1)" class="s">(DOWN)</text>
<rect x="357" y="1190" width="43" height="97" fill="none" stroke="#000" stroke-width="1.5"/>
<text transform="translate(381,1194) rotate(90) scale(0.88,1)" class="s">P.114/143</text>
<text transform="translate(361,1194) rotate(90) scale(0.88,1)" class="s">C.10-16</text>
<text transform="translate(525,1487) rotate(90) scale(0.88,1)" class="s">STEERING</text>
<text transform="translate(510,1487) rotate(90) scale(0.88,1)" class="s">WHEEL</text>

<path d="M656,1038 L709,1038 L709,1605 L313,1605" fill="none" stroke="#000" stroke-width="12"/>
<line x1="313" y1="1669" x2="950" y2="1669" stroke="#000" stroke-width="12"/>
<line x1="476" y1="1775" x2="950" y2="1775" stroke="#000" stroke-width="14"/>
<line x1="63" y1="1669" x2="235" y2="1669" stroke="#000" stroke-width="12"/>
<polyline points="616,1658 605,1669 616,1680" fill="none" stroke="#fff" stroke-width="2.5"/>
<polyline points="236,1658 225,1669 236,1680" fill="none" stroke="#fff" stroke-width="2.5"/>
<polyline points="303,1594 314,1605 303,1616" fill="none" stroke="#fff" stroke-width="2.5"/>
<polyline points="303,1658 314,1669 303,1680" fill="none" stroke="#fff" stroke-width="2.5"/>
<g stroke="#000" stroke-width="1.6" fill="none">
<line x1="244" y1="1669" x2="306" y2="1669"/>
<polyline points="306,1605 276,1605 276,1690"/>
</g>
<use href="#cr" x="306" y="1605"/><use href="#cr" x="306" y="1669"/><use href="#cl" x="244" y="1669"/>
<use href="#dd" x="276" y="1669"/>
<polygon points="276,1688 268,1702 284,1702" fill="#000"/>
<circle cx="68" cy="1669" r="9" fill="#fff" stroke="#000" stroke-width="5"/>
<line x1="55" y1="1652" x2="55" y2="1686" stroke="#000" stroke-width="3"/>
<line x1="55" y1="1669" x2="48" y2="1669" stroke="#000" stroke-width="2"/>
<line x1="48" y1="1659" x2="48" y2="1679" stroke="#000" stroke-width="2"/>
<line x1="42" y1="1665" x2="42" y2="1673" stroke="#000" stroke-width="2"/>
<circle cx="478" cy="1775" r="9" fill="#fff" stroke="#000" stroke-width="5"/>
<line x1="465" y1="1758" x2="465" y2="1792" stroke="#000" stroke-width="3"/>
<line x1="465" y1="1775" x2="458" y2="1775" stroke="#000" stroke-width="2"/>
<line x1="458" y1="1765" x2="458" y2="1785" stroke="#000" stroke-width="2"/>
<line x1="452" y1="1771" x2="452" y2="1779" stroke="#000" stroke-width="2"/>
<text transform="translate(325,1577) rotate(90) scale(0.88,1)" class="n">16</text>
<text transform="translate(393,1553) rotate(90) scale(0.88,1)" class="s">0.5B</text>
<text transform="translate(325,1640) rotate(90) scale(0.88,1)" class="n">19</text>
<text transform="translate(393,1620) rotate(90) scale(0.88,1)" class="s">0.3B</text>
<text transform="translate(212,1640) rotate(90) scale(0.88,1)" class="n">20</text>
<text transform="translate(141,1612) rotate(90) scale(0.88,1)" class="s">0.85B</text>
<text transform="translate(600,1636) rotate(90) scale(0.88,1)" class="n">22</text>
<text transform="translate(856,1620) rotate(90) scale(0.88,1)" class="s">0.3B</text>
<text transform="translate(856,1725) rotate(90) scale(0.88,1)" class="s">2.0B</text>
<text transform="translate(326,1690) rotate(90) scale(0.88,1)" class="s b">JM03</text>
<text transform="translate(211,1690) rotate(90) scale(0.88,1)" class="s b">JM03</text>
<text transform="translate(13,1645) rotate(90) scale(0.88,1)" class="s b">GM01</text>
<rect x="11" y="1700" width="22" height="53" fill="none" stroke="#000" stroke-width="1.5"/>
<text transform="translate(15,1704) rotate(90) scale(0.88,1)" class="s">P.38</text>
<text transform="translate(610,1690) rotate(90) scale(0.88,1)" class="s b">EM21</text>
<rect x="574" y="1693" width="22" height="46" fill="none" stroke="#000" stroke-width="1.5"/>
<text transform="translate(578,1696) rotate(90) scale(0.88,1)" class="s">P.59</text>
<text transform="translate(421,1750) rotate(90) scale(0.88,1)" class="s b">GE04</text>
<rect x="413" y="1810" width="24" height="52" fill="none" stroke="#000" stroke-width="1.5"/>
<text transform="translate(418,1814) rotate(90) scale(0.88,1)" class="s">P.20</text>
<text transform="translate(289,1712) rotate(90) scale(0.88,1)" class="s">See Ground</text>
<text transform="translate(270,1712) rotate(90) scale(0.88,1)" class="s">Distribution</text>
<text transform="translate(250,1712) rotate(90) scale(0.88,1)" class="s b">(SD130-2)</text>
<text transform="translate(296,1855) rotate(90) scale(0.88,1)" class="s">JOINT</text>
<text transform="translate(281,1855) rotate(90) scale(0.88,1)" class="s">CONNECTOR</text>
<rect x="228" y="1852" width="40" height="67" fill="none" stroke="#000" stroke-width="1.5"/>
<text transform="translate(250,1856) rotate(90) scale(0.88,1)" class="s">P.57</text>
<text transform="translate(231,1856) rotate(90) scale(0.88,1)" class="s">C.92-8</text>

<rect x="1328" y="1279" width="23" height="188" fill="#fff" stroke="#000" stroke-width="1.5"/>
<text transform="translate(1333,1283) rotate(90)" class="s" textLength="180" lengthAdjust="spacingAndGlyphs">HOT AT ALL TIMES</text>
<rect x="1284" y="1273" width="10" height="204" fill="#000"/>
<circle cx="1304" cy="1376" r="8" fill="#fff" stroke="#000" stroke-width="2"/>
<g stroke="#000" stroke-width="1.6" fill="none">
<path d="M1132,1290 L1183,1290 L1208,1290 Q1215,1278 1225,1290 T1245,1290 L1284,1290"/>
<path d="M1132,1462 L1183,1462 L1208,1462 Q1215,1450 1225,1462 T1245,1462 L1284,1462"/>
<line x1="957" y1="1355" x2="1001" y2="1355"/>
<line x1="1136" y1="1622" x2="1190" y2="1622"/>
<line x1="1136" y1="1745" x2="1190" y2="1745"/>
<line x1="1145" y1="1626" x2="1145" y2="1741" stroke-dasharray="8,6" stroke-width="1.2"/>
<line x1="957" y1="1669" x2="1001" y2="1669"/>
<line x1="957" y1="1773" x2="1001" y2="1773"/>
<line x1="990" y1="1673" x2="990" y2="1769" stroke-dasharray="8,6" stroke-width="1.2"/>
<line x1="940" y1="1673" x2="940" y2="1769" stroke-dasharray="8,6" stroke-width="1.2"/>
<path d="M1102,1264 Q1112,1266 1112,1280 L1112,1370 Q1112,1378 1120,1380 Q1112,1382 1112,1390 L1112,1480 Q1112,1494 1102,1494"/>
<path d="M1198,1593 Q1208,1596 1208,1610 L1208,1676 Q1208,1682 1215,1684 Q1208,1686 1208,1692 L1208,1760 Q1208,1774 1198,1776"/>
<path d="M1105,1593 Q1096,1596 1096,1610 L1096,1676 Q1096,1682 1088,1684 Q1096,1686 1096,1692 L1096,1760 Q1096,1774 1105,1776"/>
<path d="M1014,1664 Q1022,1666 1022,1680 L1022,1712 Q1022,1718 1028,1720 Q1022,1722 1022,1728 L1022,1770 Q1022,1782 1014,1784"/>
</g>
<use href="#cl" x="1183" y="1290"/><use href="#cl" x="1190" y="1290"/><use href="#cr" x="1276" y="1290"/><use href="#cr" x="1283" y="1290"/>
<use href="#cl" x="1183" y="1462"/><use href="#cl" x="1190" y="1462"/><use href="#cr" x="1276" y="1462"/><use href="#cr" x="1283" y="1462"/>
<use href="#cr" x="1132" y="1290"/><use href="#cr" x="1132" y="1462"/>
<use href="#cr" x="1138" y="1622"/><use href="#cr" x="1138" y="1745"/>
<use href="#cr" x="1003" y="1355"/><use href="#cr" x="1003" y="1669"/><use href="#cr" x="1003" y="1773"/>
<use href="#cl" x="952" y="1355"/><use href="#cl" x="952" y="1669"/><use href="#cl" x="952" y="1773"/>
<use href="#cl" x="959" y="1355"/><use href="#cl" x="959" y="1669"/><use href="#cl" x="959" y="1773"/>
<polygon points="1180,1622 1200,1613 1200,1631" fill="#000"/>
<polygon points="1180,1745 1200,1736 1200,1754" fill="#000"/>
<text transform="translate(1243,1308) rotate(90) scale(0.88,1)" class="s">FAM</text>
<text transform="translate(1228,1308) rotate(90) scale(0.88,1)" class="s">POWER-1</text>
<text transform="translate(1213,1308) rotate(90) scale(0.88,1)" class="s">40A</text>
<text transform="translate(1243,1478) rotate(90) scale(0.88,1)" class="s">FAM</text>
<text transform="translate(1228,1478) rotate(90) scale(0.88,1)" class="s">POWER-2</text>
<text transform="translate(1213,1478) rotate(90) scale(0.88,1)" class="s">40A</text>
<text transform="translate(1141,1280) rotate(90)" class="n">1</text>
<text transform="translate(1141,1300) rotate(90) scale(0.88,1)" class="s">FAM-A</text>
<text transform="translate(1141,1450) rotate(90)" class="n">9</text>
<text transform="translate(1141,1470) rotate(90) scale(0.88,1)" class="s">FAM-C</text>
<text transform="translate(1082,1324) rotate(90) scale(0.88,1)" class="s">Memory Power</text>
<text transform="translate(1019,1279) rotate(90) scale(0.88,1)" class="s">IMS Relay Control</text>
<text transform="translate(980,1342) rotate(90)" class="n">1</text>
<text transform="translate(980,1362) rotate(90) scale(0.88,1)" class="s">FAM-B</text>
<text transform="translate(926,1334) rotate(90)" class="n">18</text>
<text transform="translate(921,1370) rotate(90) scale(0.88,1)" class="s b">E/R-E1A</text>
<text transform="translate(1145,1601) rotate(90)" class="n">4</text>
<text transform="translate(1145,1724) rotate(90)" class="n">3</text>
<text transform="translate(1145,1748) rotate(90) scale(0.88,1)" class="s">FAM-B</text>
<text transform="translate(1245,1588) rotate(90) scale(0.88,1)" class="s">See Data Link Details</text>
<text transform="translate(1223,1600) rotate(90) scale(0.88,1)" class="s b">(SD200-5)</text>
<text transform="translate(1110,1603) rotate(90) scale(0.88,1)" class="s">Low</text>
<text transform="translate(1110,1724) rotate(90) scale(0.88,1)" class="s">High</text>
<text transform="translate(1066,1655) rotate(90) scale(0.88,1)" class="s">B-CAN</text>
<text transform="translate(1039,1685) rotate(90) scale(0.88,1)" class="s">Ground</text>
<text transform="translate(980,1648) rotate(90)" class="n">5</text>
<text transform="translate(980,1752) rotate(90)" class="n">6</text>
<text transform="translate(980,1788) rotate(90) scale(0.88,1)" class="s">FAM-C</text>
<text transform="translate(926,1648) rotate(90)" class="n">7</text>
<text transform="translate(926,1752) rotate(90)" class="n">23</text>
<text transform="translate(921,1781) rotate(90) scale(0.88,1)" class="s b">E/R-E1B</text>
<text transform="translate(1110,1815) rotate(90) scale(0.88,1)" class="s">FAM</text>
<text transform="translate(1306,1883) rotate(90) scale(0.88,1)" class="s">E/R</text>
<text transform="translate(1291,1883) rotate(90) scale(0.88,1)" class="s">JUNCTION</text>
<text transform="translate(1276,1883) rotate(90) scale(0.88,1)" class="s">BOX</text>
<rect x="1218" y="1886" width="42" height="65" fill="none" stroke="#000" stroke-width="1.5"/>
<text transform="translate(1241,1890) rotate(90) scale(0.88,1)" class="s">P.15</text>
<text transform="translate(1221,1890) rotate(90) scale(0.88,1)" class="s">C.91-2</text>
</svg>
</body></html>
